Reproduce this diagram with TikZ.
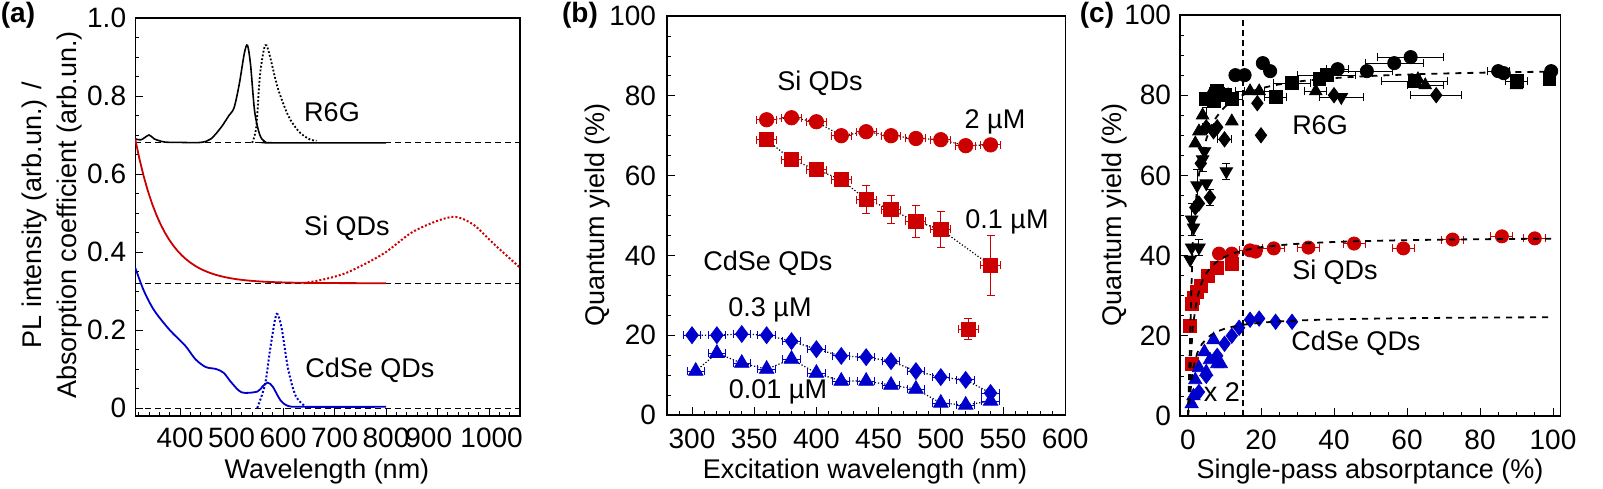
\documentclass[tikz,border=0pt]{standalone}
\usepackage{fontspec}
\setmainfont{Liberation Sans}
\usetikzlibrary{plotmarks}
\definecolor{myred}{RGB}{204,0,0}
\definecolor{myblue}{RGB}{0,0,204}
\newcommand\ebx[3]{\draw ({#1-#3},#2)--({#1+#3},#2) ({#1-#3},#2)++(0,-2pt)--++(0,4pt) ({#1+#3},#2)++(0,-2pt)--++(0,4pt);}
\newcommand\eby[3]{\draw (#1,{#2-#3})--(#1,{#2+#3}) (#1,{#2-#3})++(-2pt,0)--++(4pt,0) (#1,{#2+#3})++(-2pt,0)--++(4pt,0);}
\tikzset{lab/.style={font=\fontsize{13.5}{15}\selectfont, inner sep=1pt},
 tlab/.style={font=\fontsize{14}{16}\selectfont, inner sep=1pt},
 plab/.style={font=\fontsize{14}{16}\selectfont\bfseries, inner sep=1pt},
 base/.style={densely dashed, line width=0.5pt},
 conn/.style={densely dotted, line width=0.6pt},
 fit/.style={dashed, line width=0.9pt}}
\begin{document}
\begin{tikzpicture}[x=0.5pt,y=-0.5pt]
\useasboundingbox (0,0) rectangle (1603,488);
% ===== panel a =====
\node[plab] (pa) at (18,15) {(a)};
\node[lab,rotate=90] (ya1) at (35,215) {PL intensity (arb.un.) /};
\node[lab,rotate=90] (ya2) at (70,215) {Absorption coefficient (arb.un.)};
\node[lab] (xa) at (327,472) {Wavelength (nm)};
\begin{scope}[shift={(-26,408)}, x=0.2575pt, y={(0pt,195pt)}]
 \draw[line width=0.7pt] (313,-0.02) rectangle (1060,1.0);
 \foreach \v in {0,0.05,...,1.0} \draw (313,\v)--++(2pt,0);
 \foreach \v/\t in {0/0,0.2/0.2,0.4/0.4,0.6/0.6,0.8/0.8,1.0/1.0} {\draw (313,\v)--++(4pt,0); \node[tlab,anchor=east] at (300,\v) {\t};}
 \foreach \w in {320,340,...,1060} \draw (\w,-0.02)--++(0,2pt);
 \foreach \w in {400,500,...,1000} {\draw (\w,-0.02)--++(0,4pt);}
 \foreach \w in {400,500,600,700,800} \node[tlab,anchor=north] at (\w,-0.045) {\w};
 \node[tlab,anchor=north] at (883,-0.045) {900};
 \node[tlab,anchor=north] at (1005,-0.045) {1000};
 \draw[base] (313,0.68)--(1060,0.68);
 \draw[base] (313,0.32)--(1060,0.32);
 \draw[base] (313,0.0)--(1060,0.0);
 \begin{scope}
 \clip (313,-0.02) rectangle (1060,1.0);
 \draw[line width=0.8pt] plot[smooth] coordinates {(313,.69)(325,.688)(340,.70)(350,.69)(370,.682)(400,.681)(440,.681)(460,.69)(480,.72)(495,.75)(505,.77)(515,.83)(525,.91)(531,.93)(537,.88)(545,.76)(555,.70)(565,.683)(580,.68)(800,.68)};
 \draw[line width=0.9pt,densely dotted] plot[smooth] coordinates {(540,.68)(548,.72)(555,.85)(563,.92)(568,.93)(575,.90)(590,.82)(610,.75)(630,.71)(650,.69)(665,.685)};
 \draw[myred,line width=0.9pt] plot[domain=313:800,samples=60] (\x,{0.32+0.37*exp(-(\x-313)/55)});
 \draw[myred,line width=1pt,densely dotted] plot[smooth] coordinates {(640,.32)(680,.33)(720,.345)(760,.37)(800,.40)(850,.45)(900,.48)(935,.49)(970,.47)(1010,.42)(1060,.36)};
 \draw[myblue,line width=0.9pt] plot[smooth] coordinates {(313,.36)(330,.30)(350,.25)(380,.20)(410,.16)(430,.125)(450,.105)(470,.10)(485,.09)(500,.065)(520,.04)(550,.042)(560,.055)(570,.065)(580,.055)(595,.02)(610,.005)(640,.003)(800,.003)};
 \draw[myblue,line width=1pt,densely dotted] plot[smooth] coordinates {(550,.0)(565,.06)(575,.15)(585,.23)(590,.24)(598,.20)(610,.10)(625,.03)(645,.002)};
 \end{scope}
\end{scope}
\node[lab] (la1) at (332,112) {R6G};
\node[lab] (la2) at (347,228) {Si QDs};
\node[lab] (la3) at (370,370) {CdSe QDs};
% ===== panel b =====
\node[plab] (pb) at (580,15) {(b)};
\node[lab,rotate=90] (yb) at (598,215) {Quantum yield (\%)};
\node[lab] (xb) at (865,472) {Excitation wavelength (nm)};
\begin{scope}[shift={(318.8,415)}, x=0.622pt, y={(0pt,1.995pt)}]
 \draw[line width=0.7pt] (280,0) rectangle (600,100);
 \foreach \v in {0,5,...,100} \draw (280,\v)--++(2pt,0);
 \foreach \v in {0,20,...,100} {\draw (280,\v)--++(4pt,0); \node[tlab,anchor=east] at (273,\v) {\v};}
 \foreach \w in {280,290,...,600} \draw (\w,0)--++(0,2pt);
 \foreach \w in {300,350,...,600} {\draw (\w,0)--++(0,4pt); \node[tlab,anchor=north] at (\w,-3) {\w};}
 \draw[conn] plot coordinates {(360,74)(380,74.5)(400,73.5)(420,70)(440,71)(460,70)(480,69.3)(500,69)(520,67.5)(540,67.7)};
 \draw[conn] plot coordinates {(360,69)(380,64)(400,61.5)(420,59)(440,54)(460,51.5)(480,48.5)(500,46.5)(540,37.5)};
 \draw[conn] plot coordinates {(300,20)(320,20)(340,20.3)(360,20)(380,18.5)(400,16.5)(420,14.8)(440,14.5)(460,13.5)(480,11)(500,9.5)(520,8.8)(540,5.5)};
 \draw[conn] plot coordinates {(303,11)(320,15.5)(340,13)(360,11.5)(380,14)(400,10.5)(420,8.5)(440,8.5)(460,7.5)(480,6.5)(500,3)(520,2.5)(540,3.5)};
 \begin{scope}[myred,line width=0.5pt]
 \foreach \a/\b in {360/74,380/74.5,400/73.5,420/70,440/71,460/70,480/69.3,500/69,520/67.5,540/67.7,360/69,380/64,400/61.5,420/59,440/54,460/51.5,480/48.5,500/46.5,540/37.5,522/21.5} {\ebx{\a}{\b}{8}}
 \foreach \a/\b/\c in {440/54/3.5,460/51.5/3.5,480/48.5/4,500/46.5/4.5,540/37.5/7.5,522/21.5/2.7,420/59/1.5,400/61.5/1.2} {\eby{\a}{\b}{\c}}
 \end{scope}
 \begin{scope}[myblue,line width=0.5pt]
 \foreach \a/\b in {300/20,320/20,340/20.3,360/20,380/18.5,400/16.5,420/14.8,440/14.5,460/13.5,480/11,500/9.5,520/8.8,540/5.5,303/11,320/15.5,340/13,360/11.5,380/14,400/10.5,420/8.5,440/8.5,460/7.5,480/6.5,500/3,520/2.5,540/3.5} {\ebx{\a}{\b}{7}}
 \end{scope}
 \fill[myred] plot[only marks,mark=*,mark size=3.6pt] coordinates {(360,74)(380,74.5)(400,73.5)(420,70)(440,71)(460,70)(480,69.3)(500,69)(520,67.5)(540,67.7)};
 \fill[myred] plot[only marks,mark=square*,mark size=3.6pt] coordinates {(360,69)(380,64)(400,61.5)(420,59)(440,54)(460,51.5)(480,48.5)(500,46.5)(540,37.5)(522,21.5)};
 \fill[myblue] plot[only marks,mark=diamond*,mark size=4.2pt] coordinates {(300,20)(320,20)(340,20.3)(360,20)(380,18.5)(400,16.5)(420,14.8)(440,14.5)(460,13.5)(480,11)(500,9.5)(520,8.8)(540,5.5)};
 \fill[myblue] plot[only marks,mark=triangle*,mark size=4.2pt] coordinates {(303,11)(320,15.5)(340,13)(360,11.5)(380,14)(400,10.5)(420,8.5)(440,8.5)(460,7.5)(480,6.5)(500,3)(520,2.5)(540,3.5)};
\end{scope}
\node[lab] (lb1) at (820,83) {Si QDs};
\node[lab] (lb2) at (995,122) {2 µM};
\node[lab] (lb3) at (1007,222) {0.1 µM};
\node[lab] (lb4) at (768,263) {CdSe QDs};
\node[lab] (lb5) at (770,310) {0.3 µM};
\node[lab] (lb6) at (778,392) {0.01 µM};
% ===== panel c =====
\node[plab] (pc) at (1097,15) {(c)};
\node[lab,rotate=90] (yc) at (1115,215) {Quantum yield (\%)};
\node[lab] (xc) at (1370,472) {Single-pass absorptance (\%)};
\begin{scope}[shift={(1188,416)}, x=1.825pt, y={(0pt,2.005pt)}]
 \draw[line width=0.7pt] (-2.2,0) rectangle (102,100);
 \foreach \v in {0,5,...,100} \draw (-2.2,\v)--++(2pt,0);
 \foreach \v in {0,20,...,100} {\draw (-2.2,\v)--++(4pt,0); \node[tlab,anchor=east] at (-4,\v) {\v};}
 \foreach \w in {0,5,...,100} \draw (\w,0)--++(0,2pt);
 \foreach \w in {0,20,...,100} {\draw (\w,0)--++(0,4pt); \node[tlab,anchor=north] at (\w,-3) {\w};}
 \draw[base,line width=0.8pt] (15,0)--(15,100);
 \begin{scope}[line width=0.5pt]
 \foreach \a/\b/\c in {61/89.5/9,56.5/88/8,49/86/7,41/86.5/3,28.5/83/5,38/85/8,62/83.5/9,65/82.5/5,68/80/7,42/79.5/6,35/81/3,90/83.5/3,85/86/3,24/79.5/3,17/81/4,19.5/81/4,12/79/3,8/81/2,10/69/2} {\ebx{\a}{\b}{\c}}
 \foreach \a/\b/\c in {10.5/61/2,6/54.5/2,4/64/3,2.5/57.5/4,1/49/4,3/42/2,5/75/2,4/64/3} {\eby{\a}{\b}{\c}}
 \end{scope}
 \fill plot[only marks,mark=*,mark size=3.3pt] coordinates {(13,85)(15.5,85)(20.5,88)(22.5,86)(41,86.5)(49,86)(56.5,88)(61,89.5)(85,86)(86.5,85.5)(99.5,86)};
 \fill plot[only marks,mark=square*,mark size=3.2pt] coordinates {(8,81)(12,79)(24,79.5)(28.5,83)(38,85)(36,84)(62,83.5)(90,83.5)(99,84)(5,79)(7,78.5)(10,80)};
 \fill plot[only marks,mark=triangle*,mark size=3.6pt] coordinates {(3,71)(4,75)(6,80)(11,80)(12,73.5)(17,81)(19.5,81)(35,81)(63,84)(65,82.5)(90,82.5)(2,68)};
 \fill plot[only marks,mark=diamond*,mark size=3.8pt] coordinates {(5,72)(7,71)(10,69)(19,78)(20,70)(40,80)(68,80)(6,54.5)(3,53)(2,52)(3.5,63)(8,72)};
 \fill plot[only marks,mark=triangle*,mark size=3.6pt,mark options={rotate=180}] coordinates {(1,49)(1.5,47)(1,42)(3,42)(0.6,39)(2.5,57.5)(5,58)(10.5,61)(4,64)(42,79.5)(4.5,66)};
 \begin{scope}[myred,line width=0.5pt]
 \foreach \a/\b in {17/41.3,23.5/41.8,33/42,45.5/43,59/41.8,72.5/44,86/44.8,95/44.3} {\ebx{\a}{\b}{3}}
 \end{scope}
 \fill[myred] plot[only marks,mark=square*,mark size=3.2pt] coordinates {(0.5,22.5)(1,28)(1.5,29.5)(2.5,31)(3.5,32.5)(5.5,35)(8,37)(12,38)(1,13)};
 \fill[myred] plot[only marks,mark=*,mark size=3.3pt] coordinates {(8.5,40.5)(12,40.5)(17,41.3)(18.5,41)(23.5,41.8)(33,42)(45.5,43)(59,41.8)(72.5,44)(86,44.8)(95,44.3)};
 \fill[myblue] plot[only marks,mark=triangle*,mark size=3.8pt] coordinates {(1,3)(1.5,5)(2,9)(3,12)(4.5,16)(6,14)(7,19)(8,13)(9,13)(5,11)};
 \fill[myblue] plot[only marks,mark=diamond*,mark size=3.8pt] coordinates {(3,6)(5,10)(8,15)(10,18)(12,20)(14,22)(17,24)(19.5,24.3)(24,23.5)(28.5,23.5)};
 \draw[fit] plot[domain=0:100,samples=80] (\x,{87*\x/(\x+1.3)});
 \draw[fit] plot[domain=0:100,samples=80] (\x,{44.8*\x/(\x+1.3)});
 \draw[fit] plot[domain=0:100,samples=80] (\x,{25*\x/(\x+1.5)});
\end{scope}
\node[lab] (lc1) at (1320,125) {R6G};
\node[lab] (lc2) at (1335,272) {Si QDs};
\node[lab] (lc3) at (1356,343) {CdSe QDs};
\node[lab] (lc4) at (1222,392) {x 2};
\end{tikzpicture}
\end{document}
